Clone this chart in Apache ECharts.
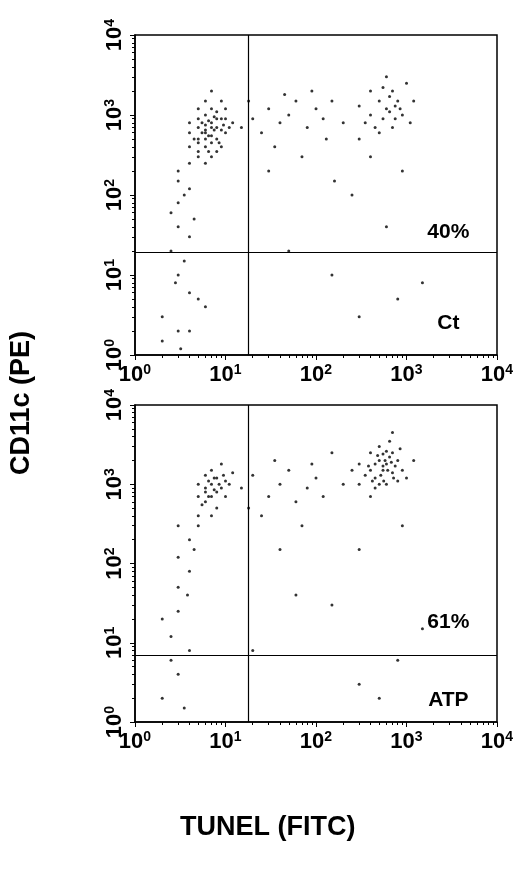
<!DOCTYPE html>
<html><head><meta charset="utf-8">
<script src="https://cdn.jsdelivr.net/npm/echarts@6/dist/echarts.min.js"></script>
<style>html,body{margin:0;background:#fff}#c{width:520px;height:880px}</style>
</head><body><div id="c"></div>
<script>
// dot plot values (TUNEL, CD11c)
const ctPoints = [
  [6,600],[7,800],[5,500],[8,700],[6,400],[9,900],[7,300],[5,700],[6,1000],[8,500],[10,600],[7,1200],[4,400],[6,250],[9,400],[5,900],[8,1100],[7,550],[6,750],[10,900],[11,700],[5,350],[4,600],[9,1500],[7,450],[6,650],[8,350],[12,800],[5,1200],[4,250],[6,1500],[7,2000],[5,300],[8,900],[9,650],[6,500],[7,700],[4,800],[10,1200],[5,450],
  [6.5,550],[7.5,650],[5.5,800],[8.5,450],[6.5,850],[7.5,950],[5.5,600],[9.5,750],[4.5,500],[6.5,350],
  [3,150],[3,80],[4,120],[3,40],[2.5,20],[3,10],[4,6],[3.5,15],[2,3],[3,2],[5,5],[2.5,60],[4,30],[3,200],[2.8,8],[6,4],[4,2],[2,1.5],[3.2,1.2],[4.5,50],[3.5,100],
  [15,700],[20,900],[30,1200],[25,600],[40,800],[50,1000],[60,1500],[80,700],[100,1200],[120,900],[150,1500],[200,800],[18,1500],[35,400],[70,300],[90,2000],[45,1800],[130,500],[160,150],[250,100],[30,200],
  [400,1000],[500,1500],[600,1200],[700,2000],[800,1500],[450,700],[550,900],[650,1100],[300,1300],[900,1000],[1000,2500],[350,800],[750,900],[600,3000],[500,600],[850,1200],[1200,1500],[700,700],[400,2000],[300,500],[1100,800],[650,1700],[550,2200],[750,1300],
  [800,5],[300,3],[150,10],[600,40],[1500,8],[50,20],[400,300],[900,200]
];
const atpPoints = [
  [6,800],[7,1000],[8,1200],[6,600],[9,900],[7,1500],[5,700],[8,500],[10,1100],[6,1300],[7,700],[9,1800],[5,400],[8,800],[11,1000],[6,900],[7,400],[10,700],[5,1000],[12,1400],
  [6.5,1100],[7.5,850],[8.5,1000],[5.5,550],[9.5,1300],[6.5,700],[7.5,1200],
  [4,200],[3,120],[4,80],[3,50],[3,25],[2.5,12],[4,8],[3,4],[2,2],[3.5,1.5],[5,300],[4.5,150],[3,300],[2.5,6],[3.8,40],[2,20],
  [15,900],[20,1300],[30,700],[40,1000],[50,1500],[60,600],[80,900],[100,1200],[120,700],[150,2500],[200,1000],[25,400],[35,2000],[70,300],[90,1800],[18,500],[40,150],[300,150],[60,40],[20,8],
  [400,1500],[500,2000],[600,1800],[700,2500],[450,1200],[550,1500],[650,2200],[300,1800],[800,2000],[900,1500],[350,1300],[500,3000],[600,1000],[700,1400],[400,2500],[550,2400],[750,1700],[850,2800],[1000,1200],[250,1500],[450,900],[650,3500],[500,1000],[400,700],[300,1000],[1200,2000],[600,2600],[800,1100],[700,4500],[550,1700],
  [450,1800],[520,1300],[620,1500],[580,2000],[480,2300],[680,1900],[420,1100],[560,1100],[720,1200],[380,1700],
  [800,6],[300,3],[150,30],[1500,15],[900,300],[500,2]
];
const quadCt = {x: 18, y: 19};
const quadAtp = {x: 18, y: 7};
const labelsCt = ['40%', 'Ct'];
const labelsAtp = ['61%', 'ATP'];

const fmt = v => '{b|10}{s|' + Math.round(Math.log10(v)) + '}';
const rich = {b: {fontSize: 22, fontWeight: 'bold', fontFamily: 'Liberation Sans'},
              s: {fontSize: 14, fontWeight: 'bold', fontFamily: 'Liberation Sans', verticalAlign: 'top', padding: [0,0,10,0]}};
const axisBase = {type: 'log', logBase: 10, min: 1, max: 10000, splitLine: {show: false},
  axisLine: {lineStyle: {color: '#000', width: 1.5}},
  axisTick: {lineStyle: {color: '#000'}, length: 5},
  minorTick: {show: true, splitNumber: 9, length: 3, lineStyle: {color: '#000'}}};

function xAxis(i) {
  return Object.assign({}, axisBase, {gridIndex: i,
    axisLabel: {formatter: fmt, rich: rich, color: '#000', margin: 8}});
}
function yAxis(i) {
  return Object.assign({}, axisBase, {gridIndex: i,
    axisLabel: {formatter: fmt, rich: rich, color: '#000', rotate: 90, margin: 8}});
}
function series(i, pts, q, labels, f1, f2) {
  return {type: 'scatter', xAxisIndex: i, yAxisIndex: i, data: pts, symbolSize: 3,
    itemStyle: {color: '#000'}, silent: true,
    markLine: {symbol: 'none', silent: true, label: {show: false},
      lineStyle: {color: '#000', width: 1.2, type: 'solid'},
      data: [{xAxis: q.x}, {yAxis: q.y}]},
    markPoint: {symbol: 'rect', symbolSize: 0,
      label: {show: true, fontSize: 21, fontWeight: 'bold', color: '#000', fontFamily: 'Liberation Sans'},
      data: [{coord: [2900, q.y * f1], value: labels[0]}, {coord: [2900, f2], value: labels[1]}]}};
}

const chart = echarts.init(document.getElementById('c'));
chart.setOption({
  backgroundColor: '#fff',
  animation: false,
  grid: [
    {left: 135, top: 35, width: 362, height: 320, show: true, borderColor: '#000', borderWidth: 1.5},
    {left: 135, top: 405, width: 362, height: 317, show: true, borderColor: '#000', borderWidth: 1.5}
  ],
  xAxis: [xAxis(0), xAxis(1)],
  yAxis: [yAxis(0), yAxis(1)],
  series: [series(0, ctPoints, quadCt, labelsCt, 1.8, 2.5), series(1, atpPoints, quadAtp, labelsAtp, 2.6, 1.9)],
  graphic: [
    {type: 'text', left: 180, top: 814, style: {text: 'TUNEL (FITC)', fontSize: 27, fontWeight: 'bold', fill: '#000', fontFamily: 'Liberation Sans'}},
    {type: 'text', x: 8, y: 475, rotation: Math.PI / 2, style: {text: 'CD11c (PE)', fontSize: 27, fontWeight: 'bold', fill: '#000', fontFamily: 'Liberation Sans'}}
  ]
});
</script></body></html>
